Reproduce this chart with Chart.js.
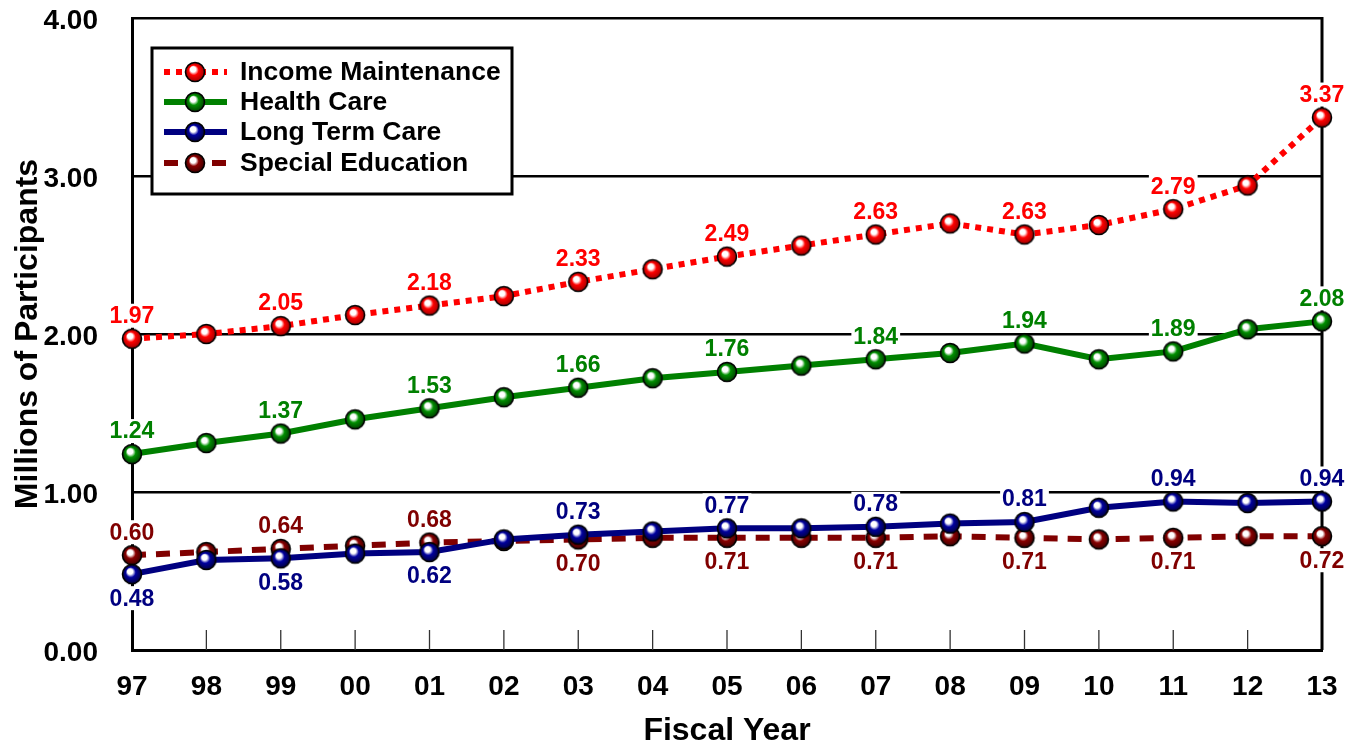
<!DOCTYPE html>
<html>
<head>
<meta charset="utf-8">
<script src="https://cdn.jsdelivr.net/npm/chart.js@4.4.0/dist/chart.umd.min.js"></script>
<style>
  html, body { margin: 0; padding: 0; background: #ffffff; }
  #wrap { width: 1359px; height: 748px; position: relative; }
</style>
</head>
<body>
<div id="wrap"><canvas id="participantsChart"></canvas></div>
<script>
// ======================
// Data
// ======================
const years = ['97', '98', '99', '00', '01', '02', '03', '04', '05', '06', '07', '08', '09', '10', '11', '12', '13'];

const incomeMaintenance = [1.97, 2.00, 2.05, 2.12, 2.18, 2.24, 2.33, 2.41, 2.49, 2.56, 2.63, 2.70, 2.63, 2.69, 2.79, 2.94, 3.37];
const healthCare        = [1.24, 1.31, 1.37, 1.46, 1.53, 1.60, 1.66, 1.72, 1.76, 1.80, 1.84, 1.88, 1.94, 1.84, 1.89, 2.03, 2.08];
const longTermCare      = [0.48, 0.57, 0.58, 0.61, 0.62, 0.70, 0.73, 0.75, 0.77, 0.77, 0.78, 0.80, 0.81, 0.90, 0.94, 0.93, 0.94];
const specialEducation  = [0.60, 0.62, 0.64, 0.66, 0.68, 0.69, 0.70, 0.71, 0.71, 0.71, 0.71, 0.72, 0.71, 0.70, 0.71, 0.72, 0.72];

// where each value label sits: 'up', 'down' or '' (no label)
const incomeLabels  = ['up', '', 'up', '', 'up', '', 'up', '', 'up', '', 'up', '', 'up', '', 'up', '', 'up'];
const healthLabels  = ['up', '', 'up', '', 'up', '', 'up', '', 'up', '', 'up', '', 'up', '', 'up', '', 'up'];
const ltcLabels     = ['down', '', 'down', '', 'down', '', 'up', '', 'up', '', 'up', '', 'up', '', 'up', '', 'up'];
const speduLabels   = ['up', '', 'up', '', 'up', '', 'down', '', 'down', '', 'down', '', 'down', '', 'down', '', 'down'];

const yTicks = [0, 1, 2, 3, 4];

const FONT = "'Liberation Sans', Arial, Helvetica, sans-serif";

// ======================
// Sphere markers
// ======================
function sphere(base, dark) {
  const r = 9.5;
  const size = 24;
  const c = document.createElement('canvas');
  c.width = size; c.height = size;
  const g = c.getContext('2d');
  const cx = size / 2, cy = size / 2;
  const grad = g.createRadialGradient(cx - 2.5, cy - 3.5, 0.5, cx, cy, r);
  grad.addColorStop(0, '#ffffff');
  grad.addColorStop(0.25, '#ffffff');
  grad.addColorStop(0.5, base);
  grad.addColorStop(1, dark);
  g.beginPath();
  g.arc(cx, cy, r, 0, Math.PI * 2);
  g.fillStyle = grad;
  g.fill();
  g.lineWidth = 1.6;
  g.strokeStyle = '#000000';
  g.stroke();
  return c;
}

const ptRed   = sphere('#ff0000', '#a00000');
const ptGreen = sphere('#009000', '#004000');
const ptBlue  = sphere('#0000a0', '#000040');
const ptMaroon = sphere('#8a0000', '#400000');

// ======================
// Plugins
// ======================
const frame = {
  id: 'frame',
  beforeDatasetsDraw(chart) {
    const {ctx, chartArea, scales} = chart;
    ctx.save();
    // right border
    ctx.strokeStyle = '#000000';
    ctx.lineWidth = 3;
    ctx.beginPath();
    ctx.moveTo(chartArea.right, chartArea.top - 1);
    ctx.lineTo(chartArea.right, chartArea.bottom);
    ctx.stroke();
    // short inside ticks on x axis
    ctx.lineWidth = 1.3;
    ctx.strokeStyle = '#333333';
    years.forEach((y, i) => {
      if (i === 0 || i === years.length - 1) return;
      const x = scales.x.getPixelForValue(i);
      ctx.beginPath();
      ctx.moveTo(x, chartArea.bottom);
      ctx.lineTo(x, chartArea.bottom - 20);
      ctx.stroke();
    });
    ctx.restore();
  }
};

const valueLabels = {
  id: 'valueLabels',
  afterDatasetsDraw(chart) {
    const {ctx, scales} = chart;
    ctx.save();
    ctx.font = 'bold 23px ' + FONT;
    ctx.textAlign = 'center';
    ctx.textBaseline = 'middle';
    chart.data.datasets.forEach(ds => {
      ds.data.forEach((v, i) => {
        const pos = ds.labelPos[i];
        if (!pos) return;
        const x = scales.x.getPixelForValue(i);
        const y = scales.y.getPixelForValue(v) + (pos === 'up' ? -23 : 24);
        const txt = v.toFixed(2);
        const w = ctx.measureText(txt).width;
        ctx.fillStyle = '#ffffff';
        ctx.fillRect(x - w / 2 - 2, y - 12, w + 4, 24);
        ctx.fillStyle = ds.borderColor;
        ctx.fillText(txt, x, y + 1);
      });
    });
    ctx.restore();
  }
};

const boxLegend = {
  id: 'boxLegend',
  afterDraw(chart) {
    const {ctx} = chart;
    const left = 152, top = 48, width = 360, height = 146;
    ctx.save();
    ctx.fillStyle = '#ffffff';
    ctx.fillRect(left, top, width, height);
    ctx.strokeStyle = '#000000';
    ctx.lineWidth = 3;
    ctx.strokeRect(left, top, width, height);
    const rows = [72, 102, 132, 163];
    chart.data.datasets.forEach((ds, k) => {
      const y = rows[k];
      ctx.strokeStyle = ds.borderColor;
      ctx.lineWidth = ds.borderWidth;
      ctx.setLineDash(ds.borderDash || []);
      ctx.beginPath();
      ctx.moveTo(164, y);
      ctx.lineTo(227, y);
      ctx.stroke();
      ctx.setLineDash([]);
      const img = ds.pointStyle;
      ctx.drawImage(img, 195 - img.width / 2, y - img.height / 2);
      ctx.fillStyle = '#000000';
      ctx.font = 'bold 26.5px ' + FONT;
      ctx.textAlign = 'left';
      ctx.textBaseline = 'middle';
      ctx.fillText(ds.label, 240, y + 1);
    });
    ctx.restore();
  }
};

// ======================
// Chart
// ======================
const ctx = document.getElementById('participantsChart').getContext('2d');

const data = {
  labels: years,
  datasets: [{
    label: 'Income Maintenance',
    data: incomeMaintenance,
    labelPos: incomeLabels,
    borderColor: '#ff0000',
    borderWidth: 6,
    borderDash: [6, 6],
    pointStyle: ptRed,
  }, {
    label: 'Health Care',
    data: healthCare,
    labelPos: healthLabels,
    borderColor: '#008000',
    borderWidth: 6,
    pointStyle: ptGreen,
  }, {
    label: 'Long Term Care',
    data: longTermCare,
    labelPos: ltcLabels,
    borderColor: '#000080',
    borderWidth: 6,
    pointStyle: ptBlue,
  }, {
    label: 'Special Education',
    data: specialEducation,
    labelPos: speduLabels,
    borderColor: '#800000',
    borderWidth: 6,
    borderDash: [14, 10],
    pointStyle: ptMaroon,
  }]
};

const options = {
  responsive: true,
  maintainAspectRatio: false,
  animation: false,
  layout: { padding: { top: 18, right: 37, left: 0, bottom: 0 } },
  elements: {
    line: { tension: 0, fill: false },
    point: { radius: 10, hoverRadius: 10 }
  },
  plugins: {
    legend: { display: false },
    tooltip: { enabled: false }
  },
  scales: {
    x: {
      offset: false,
      grid: { display: false, drawTicks: false },
      border: { display: true, color: '#000000', width: 3 },
      ticks: { color: '#000000', font: { family: FONT, size: 28, weight: 'bold' }, padding: 20, maxRotation: 0, autoSkip: false },
      title: { display: true, text: 'Fiscal Year', color: '#000000', font: { family: FONT, size: 32, weight: 'bold' }, padding: { top: 0, bottom: -2 } },
      afterFit(scale) {
        scale.height = 98;
        scale.paddingLeft = 0; scale.paddingRight = 0;
      }
    },
    y: {
      min: 0,
      max: 4,
      afterBuildTicks(scale) { scale.ticks = yTicks.map(v => ({ value: v })); },
      grid: { color: '#000000', lineWidth: 2.5, drawTicks: false },
      border: { display: true, color: '#000000', width: 3 },
      ticks: { color: '#000000', font: { family: FONT, size: 28, weight: 'bold' }, padding: 34, labelOffset: 3, callback: v => Number(v).toFixed(2) },
      title: { display: true, text: 'Millions of Participants', color: '#000000', font: { family: FONT, size: 32, weight: 'bold' }, padding: { top: 9, bottom: 0 } },
      afterFit(scale) {
        scale.width = 132;
        scale.paddingTop = 0; scale.paddingBottom = 0;
      }
    }
  }
};

const chart = new Chart(ctx, {
  type: 'line',
  data,
  options,
  plugins: [frame, valueLabels, boxLegend]
});
</script>
</body>
</html>
